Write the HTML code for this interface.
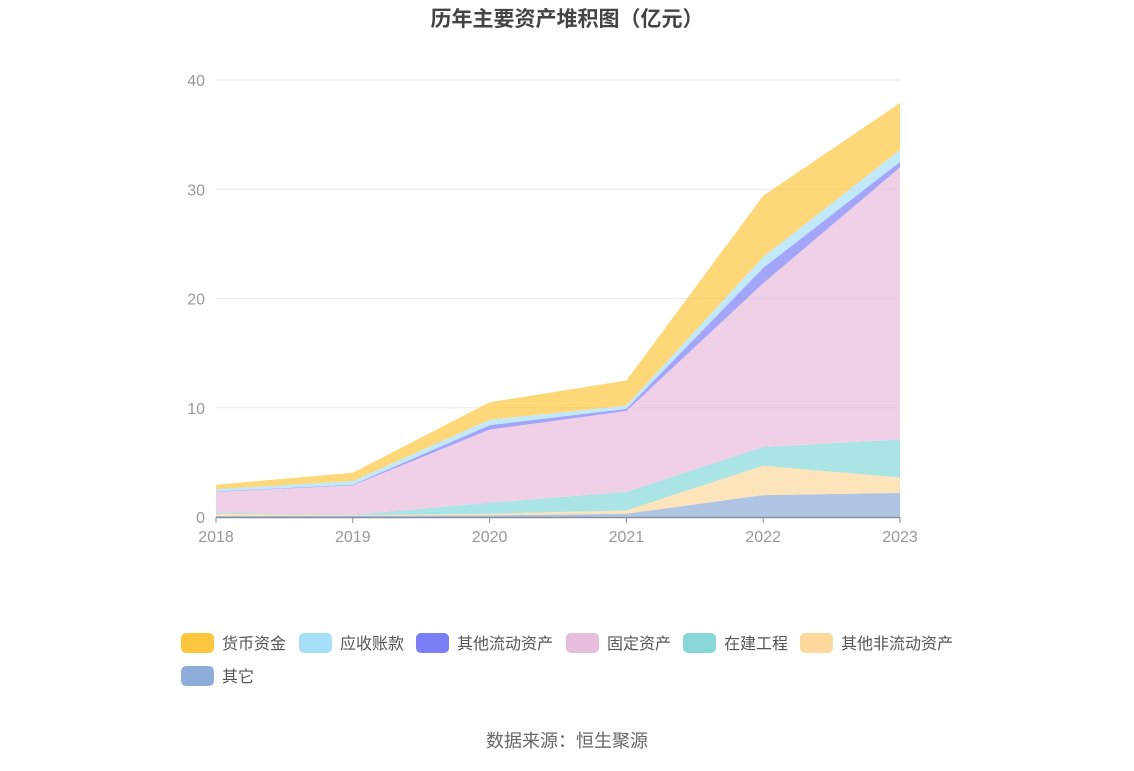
<!DOCTYPE html>
<html><head><meta charset="utf-8"><style>
body{margin:0;background:#fff;width:1134px;height:766px;overflow:hidden;font-family:"Liberation Sans","Noto Sans CJK SC",sans-serif;}
</style></head><body>
<svg id="c" width="1134" height="766" xmlns="http://www.w3.org/2000/svg">
<text x="567" y="26" text-anchor="middle" font-size="21" font-weight="bold" fill="#444" font-family="Liberation Sans,Noto Sans CJK SC,sans-serif">历年主要资产堆积图（亿元）</text>
<g id="grid"></g><g id="areas"></g><g id="axis"></g><g id="legend"></g>
<text x="567" y="747" text-anchor="middle" font-size="18" fill="#666" font-family="Liberation Sans,Noto Sans CJK SC,sans-serif">数据来源：恒生聚源</text>
</svg>
<script>
const years=['2018','2019','2020','2021','2022','2023'];
const yTicks=[0,10,20,30,40];
const seriesNames=['货币资金','应收账款','其他流动资产','固定资产','在建工程','其他非流动资产','其它'];
const other=[0.1,0.1,0.15,0.3,2.0,2.2];
const otherNonCurrent=[0.2,0.05,0.15,0.3,2.7,1.4];
const construction=[0.1,0.05,1.0,1.7,1.7,3.5];
const fixedAssets=[1.9,2.7,6.7,7.4,15.0,24.9];
const otherCurrent=[0.05,0.05,0.4,0.2,1.4,0.5];
const receivables=[0.2,0.35,0.5,0.3,1.0,1.1];
const cash=[0.4,0.75,1.6,2.3,5.6,4.3];
const stackOrder=[other,otherNonCurrent,construction,fixedAssets,otherCurrent,receivables,cash];
const stackNames=['其它','其他非流动资产','在建工程','固定资产','其他流动资产','应收账款','货币资金'];
const fills={'货币资金':'#fcc63e','应收账款':'#a8dff8','其他流动资产':'#7b7ff5','固定资产':'#e8bcdc','在建工程':'#88d8da','其他非流动资产':'#fdd89c','其它':'#8eadd9'};
const keys={'货币资金':'cash','应收账款':'receivables','其他流动资产':'other-current','固定资产':'fixed-assets','在建工程':'construction','其他非流动资产':'other-non-current','其它':'other'};
const NS='http://www.w3.org/2000/svg';
const x=i=>216+i*(900-216)/(years.length-1);
const y=v=>517-v*(517-80)/40;
function mk(t,a,p){const e=document.createElementNS(NS,t);for(const k in a)e.setAttribute(k,a[k]);p.appendChild(e);return e;}
const grid=document.getElementById('grid'),axis=document.getElementById('axis'),areas=document.getElementById('areas'),legend=document.getElementById('legend');
yTicks.forEach(t=>{
 if(t>0){const l=mk('line',{x1:216,x2:900,y1:y(t),y2:y(t),stroke:'#e6e8f0','stroke-width':1},grid);
 
 }
 const tx=mk('text',{x:205,y:y(t)+6,'text-anchor':'end','font-size':16,fill:'#999'},axis);tx.textContent=t;
 
 
});
let base=years.map(()=>0);
stackOrder.forEach((s,k)=>{
 const top=base.map((b,i)=>b+s[i]);
 let d='M'+years.map((_,i)=>x(i)+','+y(top[i])).join(' L');
 for(let i=years.length-1;i>=0;i--)d+=' L'+x(i)+','+y(base[i]);
 const p=mk('path',{d:d+'Z',fill:fills[stackNames[k]],'fill-opacity':0.7},areas);
 
 
 base=top;
});
const al=mk('line',{x1:216,x2:900,y1:517.5,y2:517.5,stroke:'#8a8f9c','stroke-width':1.5},axis);


years.forEach((yr,i)=>{
 const tk=mk('line',{x1:x(i),x2:x(i),y1:517,y2:523,stroke:'#8a8f9c'},axis);
 
 
 const t=mk('text',{x:x(i),y:542,'text-anchor':'middle','font-size':16,fill:'#999'},axis);t.textContent=yr;
 
 
});
const legX=[181,299,416,566,683,800,181],legY=[643,643,643,643,643,643,676];
seriesNames.forEach((n,i)=>{
 const g=mk('g',{},legend);
 
 
 mk('rect',{x:legX[i],y:legY[i]-10,width:33,height:20,rx:5,fill:fills[n]},g);
 const t=mk('text',{x:legX[i]+41,y:legY[i]+6,'font-size':16,fill:'#555'},g);t.textContent=n;
});
</script>
</body></html>
